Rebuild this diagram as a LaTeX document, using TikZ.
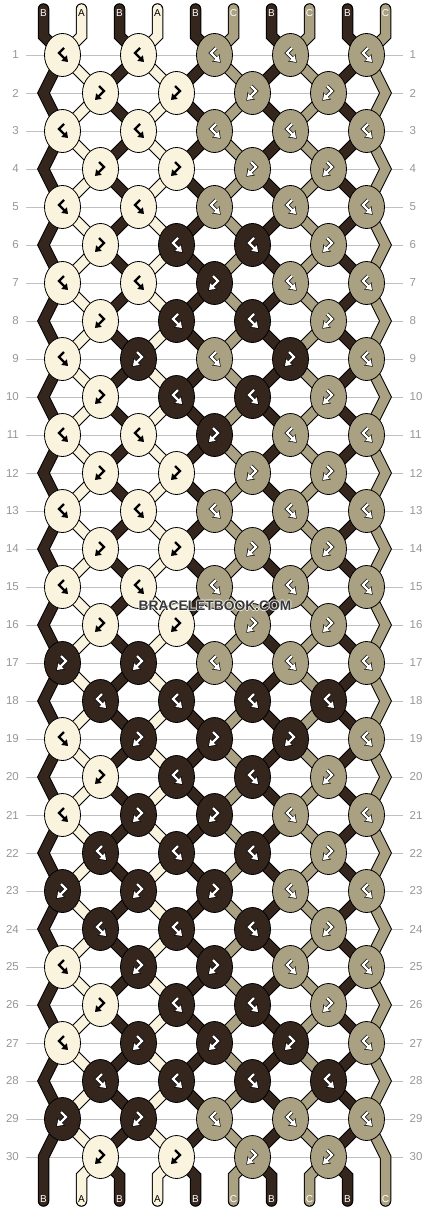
\documentclass[tikz,border=0pt]{standalone}
\usepackage{fontspec}
\setmainfont{Liberation Sans}
\usetikzlibrary{shapes.geometric,arrows.meta}

\definecolor{colA}{RGB}{250,243,222}
\definecolor{colB}{RGB}{52,37,29}
\definecolor{colC}{RGB}{170,161,130}
\definecolor{rowgray}{RGB}{150,150,150}
\definecolor{logogray}{RGB}{55,55,55}

\tikzset{
  knot/.style={ellipse,draw=black,line width=0.8pt,minimum width=36pt,minimum height=43pt,inner sep=0pt},
  strand/.style={draw=black,line width=1pt,double distance=9.5pt,line cap=round,line join=miter},
  sym/.style={line width=2.2pt,line join=miter,-{Triangle[length=5.5pt,width=7.5pt]}},
  symline/.style={line width=3.8pt,line join=miter,black,shorten >=-1pt,-{Triangle[length=7pt,width=10pt]}},
  rownum/.style={text=rowgray,font=\fontsize{11.5}{12}\selectfont,inner sep=0pt},
  rowline/.style={draw=rowgray!60,line width=0.8pt,shorten <=7pt,shorten >=6.5pt},
  endlabel/.style={font=\fontsize{10}{10}\selectfont,inner sep=0pt},
  logo/.style={font=\fontsize{13.8}{14}\selectfont\bfseries,inner sep=0pt}
}

\begin{document}
\begin{tikzpicture}[x=1pt,y=-1pt]
\useasboundingbox (0,0) rectangle (430,1212);

\foreach \r in {1,...,30} {
  \pgfmathsetmacro\y{55+38*(\r-1)}
  \node[rownum,anchor=east] (ln-\r) at (19,\y) {\r};
  \node[rownum,anchor=west] (rn-\r) at (409.5,\y) {\r};
  \draw[rowline] (ln-\r) -- (rn-\r);
  \foreach \i in {0,...,9} {
    \pgfmathsetmacro\x{isodd(\r) ? 62.5+76*floor(\i/2) : (\i==0 ? 43.5 : (\i==9 ? 385.5 : 100.5+76*floor((\i-1)/2)))}
    \coordinate (s-\i-\r) at (\x,\y);
  }
}

\foreach \i/\sc/\tc in {0/colB/white,1/colA/black,2/colB/white,3/colA/black,4/colB/white,
                        5/colC/white,6/colB/white,7/colC/white,8/colB/white,9/colC/white} {
  \pgfmathsetmacro\x{43.5+38*\i}
  \coordinate (t-\i) at (\x,9);
  \coordinate (tb-\i) at (\x,36);
  \coordinate (bb-\i) at (\x,1176);
  \coordinate (b-\i) at (\x,1201);
  \draw[strand,double=\sc] (t-\i) -- (tb-\i) \foreach \r in {1,...,30} { -- (s-\i-\r) } -- (bb-\i) -- (b-\i);
  \node[endlabel,text=\tc] (tl-\i) at (\x,13) {\ifnum\i=1 A\else\ifnum\i=3 A\else\ifodd\i C\else B\fi\fi\fi};
  \node[endlabel,text=\tc] (bl-\i) at (\x,1199) {\ifnum\i=1 A\else\ifnum\i=3 A\else\ifodd\i C\else B\fi\fi\fi};
}

\foreach \r/\cols in {1/{A,A,C,C,C},2/{A,A,C,C},3/{A,A,C,C,C},4/{A,A,C,C},5/{A,A,C,C,C},
                      6/{A,B,B,C},7/{A,A,B,C,C},8/{A,B,B,C},9/{A,B,C,B,C},10/{A,B,B,C},
                      11/{A,A,B,C,C},12/{A,A,C,C},13/{A,A,C,C,C},14/{A,A,C,C},15/{A,A,C,C,C},
                      16/{A,A,C,C},17/{B,B,C,C,C},18/{B,B,B,B},19/{A,B,B,B,C},20/{A,B,B,C},
                      21/{A,B,B,C,C},22/{B,B,B,C},23/{B,B,B,C,C},24/{B,B,B,C},25/{A,B,B,C,C},
                      26/{A,B,B,C},27/{A,B,B,B,C},28/{B,B,B,B},29/{B,B,C,C,C},30/{A,A,C,C}} {
  \foreach \c [count=\j from 0] in \cols {
    \pgfmathtruncatemacro\p{isodd(\r) ? 2*\j : 2*\j+1}
    \if\c B\def\isB{1}\else\def\isB{0}\fi
    \pgfmathtruncatemacro\sd{(isodd(\r)==\isB) ? -1 : 1}
    \node[knot,fill=col\c] (k-\r-\j) at (s-\p-\r) {};
    \if\c A
      \draw[sym,black] (k-\r-\j.center) ++(1.5*\sd,-7) -- ++(-5*\sd,5) -- ++(9*\sd,9);
    \else
      \draw[symline] (k-\r-\j.center) ++(1.5*\sd,-7) -- ++(-5*\sd,5) -- ++(9*\sd,9);
      \draw[sym,white] (k-\r-\j.center) ++(1.5*\sd,-7) -- ++(-5*\sd,5) -- ++(9*\sd,9);
    \fi
  }
}

\foreach \dx/\dy in {-1/0,1/0,0/-1,0/1}
  \node[logo,text=white,opacity=0.75] (logo-\dx-\dy) at (215+\dx,606+\dy) {BRACELETBOOK.COM};
\node[logo,text=logogray] (logo) at (215,606) {BRACELETBOOK.COM};

\end{tikzpicture}
\end{document}
